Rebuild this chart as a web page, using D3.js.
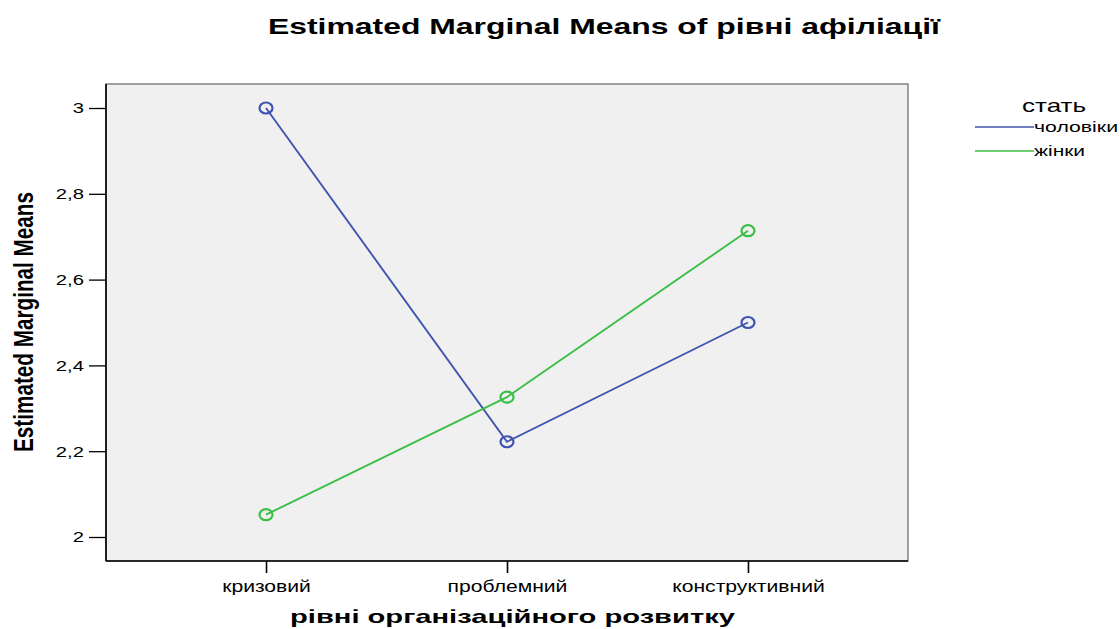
<!DOCTYPE html>
<html><head><meta charset="utf-8">
<script src="https://cdn.jsdelivr.net/npm/d3@7"></script>
<style>body{margin:0;background:#fff}svg{display:block}text{font-family:"Liberation Sans",Arial,sans-serif}</style>
</head><body>
<svg id="c" width="1120" height="629"></svg>
<script>
const categories = ["кризовий", "проблемний", "конструктивний"];
const seriesNames = ["чоловіки", "жінки"];
const menValues = [3.0, 2.222, 2.5];
const womenValues = [2.052, 2.326, 2.714];
const yTicks = [2, 2.2, 2.4, 2.6, 2.8, 3];
const colors = ["#3F54AE", "#3DBE47"];

const svg = d3.select("#c");
const L = 106, R = 908, T = 84, B = 561;
const x = d3.scalePoint().domain(categories).range([L, R]).padding(0.664);
const y = d3.scaleLinear().domain([2, 3]).range([537, 108]);

svg.append("rect").attr("x", L).attr("y", T).attr("width", R - L).attr("height", B - T)
  .attr("fill", "#f0f0f0").attr("stroke", "#666").attr("stroke-width", 1.2);

const yAxis = svg.append("g").attr("transform", `translate(${L},0)`)
  .call(d3.axisLeft(y).tickValues(yTicks).tickSize(17).tickPadding(6)
    .tickFormat(d => d3.format("~g")(d).replace(".", ",")));
yAxis.select(".domain").attr("d", `M0,${T}V${B}`).attr("stroke", "#000").attr("stroke-width", 1.6);
yAxis.selectAll(".tick line").attr("stroke", "#000").attr("stroke-width", 1.3);
yAxis.selectAll("text").attr("font-size", 15).attr("fill", "#000")
  .attr("font-family", "Liberation Sans, Arial, sans-serif")
  .attr("x", 0).attr("transform", "translate(-22,0) scale(1.35,1)");

const xAxis = svg.append("g").attr("transform", `translate(0,${B})`)
  .call(d3.axisBottom(x).tickSize(12).tickPadding(0));
xAxis.select(".domain").attr("d", `M${L},0H${R}`).attr("stroke", "#000").attr("stroke-width", 1.6);
xAxis.selectAll(".tick line").attr("stroke", "#000").attr("stroke-width", 1.6);
xAxis.selectAll("text").attr("font-size", 16).attr("fill", "#000")
  .attr("font-family", "Liberation Sans, Arial, sans-serif")
  .attr("y", 0).attr("dy", 0).attr("transform", "translate(0,31) scale(1.32,1)");

const series = [menValues, womenValues];
const line = d3.line().x((d, i) => x(categories[i])).y(d => y(d));
series.forEach((vals, s) => {
  svg.append("path").datum(vals).attr("d", line).attr("fill", "none")
    .attr("stroke", colors[s]).attr("stroke-width", 1.9);
  svg.selectAll(null).data(vals).enter().append("ellipse")
    .attr("cx", (d, i) => x(categories[i])).attr("cy", d => y(d)).attr("rx", 6.5).attr("ry", 5.5)
    .attr("fill", "none").attr("stroke", colors[s]).attr("stroke-width", 2.2);
});

svg.append("text").attr("x", 604).attr("y", 34).attr("text-anchor", "middle")
  .attr("font-size", 22).attr("font-weight", "bold")
  .attr("textLength", 672).attr("lengthAdjust", "spacingAndGlyphs")
  .text("Estimated Marginal Means of рівні афіліації");
svg.append("text").attr("x", 512.5).attr("y", 623).attr("text-anchor", "middle")
  .attr("font-size", 19).attr("font-weight", "bold")
  .attr("textLength", 445).attr("lengthAdjust", "spacingAndGlyphs")
  .text("рівні організаційного розвитку");
svg.append("text").attr("transform", "translate(33,322) rotate(-90) scale(1,1.4)").attr("text-anchor", "middle")
  .attr("font-size", 20).attr("font-weight", "bold")
  .attr("textLength", 260).attr("lengthAdjust", "spacingAndGlyphs")
  .text("Estimated Marginal Means");

svg.append("text").attr("x", 1022).attr("y", 112).attr("font-size", 19)
  .attr("textLength", 64).attr("lengthAdjust", "spacingAndGlyphs").text("стать");
const legendW = [84, 51];
seriesNames.forEach((n, i) => {
  const yy = 127 + i * 24;
  svg.append("line").attr("x1", 975).attr("x2", 1034).attr("y1", yy).attr("y2", yy)
    .attr("stroke", colors[i]).attr("stroke-width", 1.6);
  svg.append("text").attr("x", 1034).attr("y", yy + 5).attr("font-size", 15)
    .attr("textLength", legendW[i]).attr("lengthAdjust", "spacingAndGlyphs").text(n);
});
</script>
</body></html>
